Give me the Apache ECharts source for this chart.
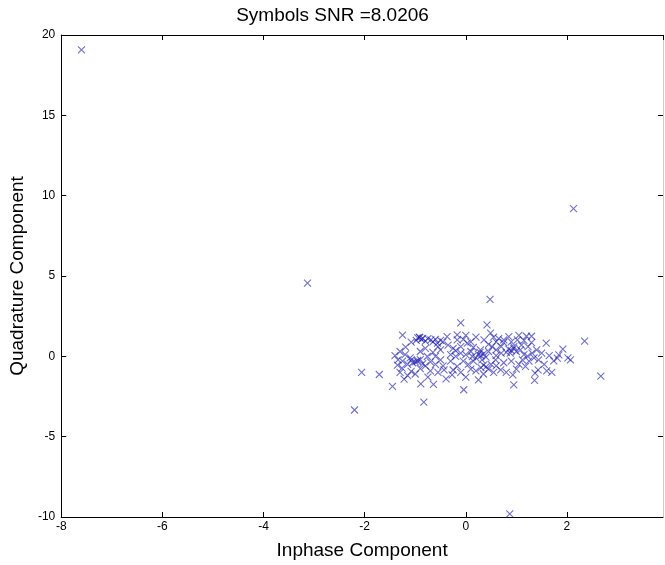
<!DOCTYPE html>
<html>
<head>
<meta charset="utf-8">
<script src="https://cdn.jsdelivr.net/npm/echarts@6/dist/echarts.min.js"></script>
<style>
  html, body { margin: 0; padding: 0; background: #fff; }
  #chart { width: 665px; height: 565px; }
</style>
</head>
<body>
<div id="chart"></div>
<script>
// Received symbols, [inphase, quadrature]
const outlierSymbols = [
  [-7.6, 19.08], [2.13, 9.2], [-3.13, 4.55], [0.87, -9.8], [-2.2, -3.34],
  [-0.83, -2.85], [2.67, -1.23], [0.48, 3.55], [2.35, 0.94], [-2.06, -1.0],
  [-1.71, -1.13], [-1.45, -1.87]
];

const clusterSymbols = [
  [0.42, 1.96], [-0.10, 2.08], [-1.25, 1.32], [-0.91, 1.17], [1.30, 1.25], [1.59, 0.82],
  [1.92, 0.45], [1.84, 0.09], [1.81, -0.11], [1.74, -0.28], [2.07, -0.22], [2.02, -0.1],
  [1.70, -1.0], [1.43, -0.84], [1.37, -1.04], [1.36, -1.5], [0.95, -1.77], [-0.04, -2.08],
  [0.25, -1.46], [-0.89, -1.71], [-0.64, -1.75], [-0.39, -1.4], [0.93, -1.15], [-1.22, -1.42],
  [-1.08, -0.94], [-1.34, -0.22], [-1.26, -0.73], [-1.19, 0.57], [-1.08, 0.88], [-1.08, -0.22],
  [-0.96, -0.32], [-0.9, -0.76], [-0.76, -0.01], [-0.69, 1.02], [-0.56, 0.82], [-0.37, 1.23],
  [-0.17, 1.34], [-0.17, 1.02], [-0.5, 0.4], [-0.5, -0.22], [-0.43, -0.84], [-0.27, -1.15],
  [-0.17, -0.63], [-0.1, 0.2], [0.03, 0.82], [0.13, -0.01], [0.29, 0.4], [0.32, -0.22],
  [0.36, 1.02], [0.49, 1.44], [0.52, 0.61], [0.59, -0.22], [0.6, 0.4], [0.69, -0.84],
  [0.75, 1.02], [0.85, 1.23], [0.88, 0.2], [0.95, 0.61], [1.02, 1.02], [1.08, 0.4],
  [1.12, -0.22], [1.18, -0.63], [1.23, 0.61], [1.22, 0.01], [1.31, 0.2], [1.44, -0.22],
  [-0.95, 1.15], [-0.88, 1.05], [-0.92, 1.2], [-0.85, 1.12], [-0.8, 0.95], [-0.98, 1.0],
  [-0.75, 1.1], [-0.6, 1.05], [-0.65, 0.9], [-0.5, 1.0], [-0.45, 0.9],
  [-1.0, -0.35], [-0.95, -0.25], [-1.05, -0.4], [-0.9, -0.2], [-1.1, -0.1], [-0.85, -0.45],
  [-1.15, -0.5], [-1.2, 0.1], [-1.3, 0.3], [-1.25, -0.3], [-0.8, -0.6], [-0.7, -0.35],
  [-0.6, -0.5], [-0.65, 0.25], [-0.55, 0.6], [-0.8, 0.5], [-0.9, 0.3], [-0.7, -0.9],
  [-1.0, -1.1], [-0.75, -1.3], [-0.55, -1.0],
  [0.25, 0.1], [0.3, 0.05], [0.35, 0.15], [0.2, -0.1], [0.4, -0.05], [0.28, 0.25],
  [0.45, 0.3], [0.1, 0.3], [0.15, -0.3], [0.05, -0.5], [-0.05, -0.3], [0.0, 0.1],
  [-0.2, 0.0], [-0.3, -0.3], [-0.25, 0.5], [-0.35, 0.7], [-0.1, 0.6], [0.1, 0.9],
  [0.2, 1.2], [0.0, 1.3], [-0.05, 1.05],
  [0.35, -0.55], [0.4, -0.65], [0.3, -0.7], [0.5, -0.5], [0.45, -0.8], [0.55, -1.0],
  [0.2, -0.9], [0.1, -0.8], [-0.1, -1.0], [0.0, -1.3], [0.35, -1.1], [0.6, -0.6],
  [0.75, -0.4], [0.8, -1.0], [1.0, -0.8], [1.05, -0.5], [0.9, -0.3],
  [0.85, 0.45], [0.9, 0.35], [0.95, 0.5], [0.8, 0.25], [1.0, 0.3], [0.7, 0.6],
  [0.75, 0.85], [0.65, 1.1], [0.9, 0.9], [1.1, 0.7], [1.15, 1.0], [1.2, 1.25],
  [1.05, 1.3], [0.6, 0.9], [0.55, 1.2], [1.3, 0.85], [1.4, 0.4], [1.35, -0.1],
  [1.5, 0.2], [1.55, -0.5], [1.25, -0.3], [1.15, 0.1],
  [-1.35, -0.55], [-1.4, 0.05], [-1.3, -1.0], [-1.15, -1.2], [-0.45, -0.6], [-0.3, 0.1],
  [-0.2, 0.35], [0.15, 0.55], [0.6, 0.05], [0.7, 0.2], [-0.25, -0.85], [-0.6, 0.0],
  [0.45, 0.75], [1.6, -0.9], [1.65, 0.05]
];

// Axis ranges and tick spacing
const inphaseRange = [-8, 3.9];
const inphaseStep = 2;
const quadratureRange = [-10, 20];
const quadratureStep = 5;

const FONT = '"Liberation Sans", Arial, sans-serif';
const markColor = 'rgba(25, 25, 180, 0.78)';

const chart = echarts.init(document.getElementById('chart'), null, { renderer: 'canvas' });

const boxAxisLine = { show: true, onZero: false, lineStyle: { color: '#000', width: 1 } };
const innerTick = { show: true, inside: true, length: 5, lineStyle: { color: '#000', width: 1 } };

chart.setOption({
  animation: false,
  backgroundColor: '#fff',
  title: {
    text: 'Symbols SNR =8.0206',
    left: 'center',
    top: 1,
    textStyle: { fontFamily: FONT, fontSize: 19, fontWeight: 'normal', color: '#000' }
  },
  grid: { left: 60, right: 2, top: 35, bottom: 48, containLabel: false },
  xAxis: [
    {
      type: 'value',
      position: 'bottom',
      min: inphaseRange[0],
      max: inphaseRange[1],
      interval: inphaseStep,
      axisLine: boxAxisLine,
      axisTick: innerTick,
      splitLine: { show: false },
      axisLabel: {
        fontFamily: FONT, fontSize: 12, color: '#000', margin: 4,
        showMaxLabel: false,
        formatter: v => (Math.abs(v % inphaseStep) < 1e-9 ? String(v) : '')
      },
      name: 'Inphase Component',
      nameLocation: 'middle',
      nameGap: 24,
      nameTextStyle: { fontFamily: FONT, fontSize: 19, color: '#000' }
    },
    {
      type: 'value',
      position: 'top',
      min: inphaseRange[0],
      max: inphaseRange[1],
      interval: inphaseStep,
      axisLine: boxAxisLine,
      axisTick: innerTick,
      axisLabel: { show: false },
      splitLine: { show: false }
    }
  ],
  yAxis: [
    {
      type: 'value',
      position: 'left',
      min: quadratureRange[0],
      max: quadratureRange[1],
      interval: quadratureStep,
      axisLine: boxAxisLine,
      axisTick: innerTick,
      splitLine: { show: false },
      axisLabel: { fontFamily: FONT, fontSize: 12, color: '#000', margin: 6 },
      name: 'Quadrature Component',
      nameLocation: 'middle',
      nameGap: 31,
      nameTextStyle: { fontFamily: FONT, fontSize: 19, color: '#000' }
    },
    {
      type: 'value',
      position: 'right',
      min: quadratureRange[0],
      max: quadratureRange[1],
      interval: quadratureStep,
      axisLine: { show: true, onZero: false, lineStyle: { color: '#ccc', width: 1 } },
      axisTick: innerTick,
      axisLabel: { show: false },
      splitLine: { show: false }
    }
  ],
  series: [
    {
      type: 'scatter',
      xAxisIndex: 0,
      yAxisIndex: 0,
      data: outlierSymbols.concat(clusterSymbols),
      symbol: 'path://M0,0L10,10M10,0L0,10',
      symbolSize: 7,
      itemStyle: { color: 'none', borderColor: markColor, borderWidth: 1.1 },
      emphasis: { disabled: true },
      silent: true
    }
  ]
});
</script>
</body>
</html>
